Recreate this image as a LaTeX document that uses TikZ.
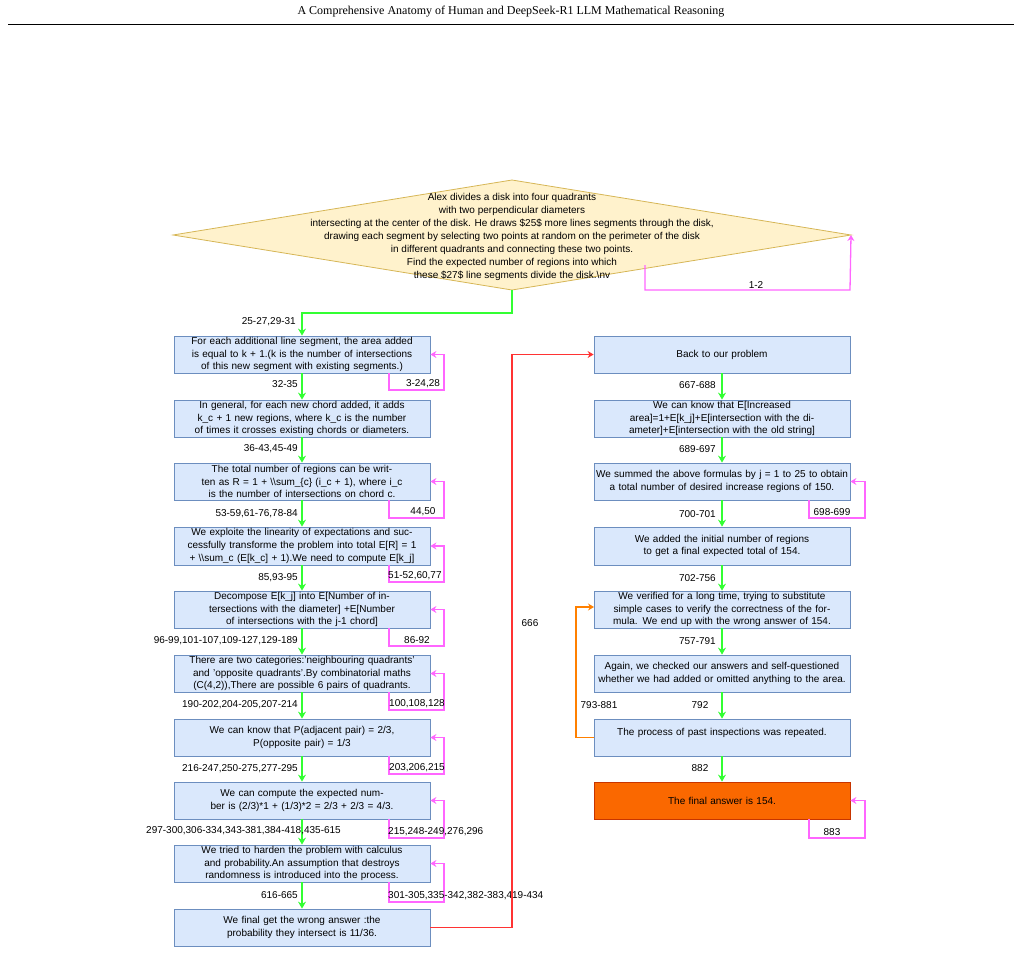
\documentclass[tikz,border=0pt]{standalone}
\usepackage{fontspec}
\setmainfont{Liberation Sans}
\newfontfamily\titlefont{Liberation Serif}
\usetikzlibrary{arrows.meta}
\definecolor{bfill}{HTML}{DAE8FC}\definecolor{bdraw}{HTML}{6C8EBF}
\definecolor{dfill}{HTML}{FFF2CC}\definecolor{ddraw}{HTML}{D6B656}
\definecolor{gr}{HTML}{33FF33}\definecolor{pk}{HTML}{FF66FF}
\definecolor{rd}{HTML}{FF3333}\definecolor{og}{HTML}{FF8000}
\definecolor{ofill}{HTML}{FA6800}\definecolor{odraw}{HTML}{C73500}
\begin{document}
\begin{tikzpicture}[x=1pt,y=-1pt,
 box/.style={draw=bdraw,fill=bfill,line width=0.8pt,minimum width=256pt,text width=254pt,align=center,inner sep=0pt,font=\fontsize{10}{12.6}\selectfont},
 lbl/.style={font=\fontsize{10}{12}\selectfont,inner sep=0pt},
 ga/.style={draw=gr,line width=1.5pt,-{Stealth[length=7pt,width=8pt]}},
 pa/.style={draw=pk,line width=1.3pt,-{Stealth[length=6pt,width=7pt]}},
]
\useasboundingbox (0,0) rectangle (1022,953);
\node[font=\titlefont\fontsize{12}{14}\selectfont] (title) at (511,12) {A Comprehensive Anatomy of Human and DeepSeek-R1 LLM Mathematical Reasoning};
\draw[line width=1pt] (8,24) -- (1014,24);
% diamond
\coordinate (dt) at (512,180); \coordinate (dr) at (851,235);
\coordinate (db) at (512,290); \coordinate (dl) at (173,235);
\draw[draw=ddraw,fill=dfill,line width=0.8pt] (dt)--(dr)--(db)--(dl)--cycle;
\node[lbl,align=center,font=\fontsize{10}{12.9}\selectfont] (dtext) at (512,237) {Alex divides a disk into four quadrants\\with two perpendicular diameters\\intersecting at the center of the disk. He draws \$25\$ more lines segments through the disk,\\drawing each segment by selecting two points at random on the perimeter of the disk\\in different quadrants and connecting these two points.\\Find the expected number of regions into which\\these \$27\$ line segments divide the disk.\textbackslash nv};
% left boxes
\node[box,minimum height=37pt] (L1) at (302,354.5) {For each additional line segment, the area added is equal to k + 1.(k is the number of intersections of this new segment with existing segments.)};
\node[box,minimum height=37pt] (L2) at (302,418.5) {In general, for each new chord added, it adds k\_c + 1 new regions, where k\_c is the number of times it crosses existing chords or diameters.};
\node[box,minimum height=37pt] (L3) at (302,481.5) {The total number of regions can be written as R = 1 + \textbackslash\textbackslash sum\_\{c\} (i\_c + 1), where i\_c is the number of intersections on chord c.};
\node[box,minimum height=38pt] (L4) at (302,546) {We exploite the linearity of expectations and successfully transforme the problem into total E[R] = 1 + \textbackslash\textbackslash sum\_c (E[k\_c] + 1).We need to compute E[k\_j]};
\node[box,minimum height=37pt] (L5) at (302,609.5) {Decompose E[k\_j] into E[Number of intersections with the diameter] +E[Number of intersections with the j-1 chord]};
\node[box,minimum height=37pt] (L6) at (302,673.5) {There are two categories:'neighbouring quadrants' and 'opposite quadrants'.By combinatorial maths (C(4,2)),There are possible 6 pairs of quadrants.};
\node[box,minimum height=37pt] (L7) at (302,737.5) {We can know that P(adjacent pair) = 2/3,\\P(opposite pair) = 1/3};
\node[box,minimum height=37pt] (L8) at (302,800.5) {We can compute the expected number is (2/3)*1 + (1/3)*2 = 2/3 + 2/3 = 4/3.};
\node[box,minimum height=37pt] (L9) at (302,863.5) {We tried to harden the problem with calculus and probability.An assumption that destroys randomness is introduced into the process.};
\node[box,minimum height=37pt] (L10) at (302,927.5) {We final get the wrong answer :the probability they intersect is 11/36.};
% right boxes
\node[box,minimum height=37pt] (R1) at (722,354.5) {Back to our problem};
\node[box,minimum height=37pt] (R2) at (722,418.5) {We can know that E[Increased area]=1+E[k\_j]+E[intersection with the diameter]+E[intersection with the old string]};
\node[box,minimum height=37pt] (R3) at (722,481.5) {We summed the above formulas by j = 1 to 25 to obtain a total number of desired increase regions of 150.};
\node[box,minimum height=38pt] (R4) at (722,546) {We added the initial number of regions to get a final expected total of 154.};
\node[box,minimum height=37pt] (R5) at (722,609.5) {We verified for a long time, trying to substitute simple cases to verify the correctness of the formula. We end up with the wrong answer of 154.};
\node[box,minimum height=37pt] (R6) at (722,673.5) {Again, we checked our answers and self-questioned whether we had added or omitted anything to the area.};
\node[box,minimum height=37pt,text depth=12pt] (R7) at (722,737.5) {The process of past inspections was repeated.};
\node[box,minimum height=37pt,fill=ofill,draw=odraw] (R8) at (722,800.5) {The final answer is 154.};
% green arrows
\draw[ga] (db) -- (512,313) -- (302,313) -- (L1.north);
\node[lbl,anchor=east] (g0) at (296,322) {25-27,29-31};
\foreach \a/\b/\t/\yy in {L1/L2/32-35/384,L2/L3/36-43{,}45-49/449,L3/L4/53-59{,}61-76{,}78-84/514,L4/L5/85{,}93-95/578,L5/L6/96-99{,}101-107{,}109-127{,}129-189/641,L6/L7/190-202{,}204-205{,}207-214/705,L7/L8/216-247{,}250-275{,}277-295/769,L9/L10/616-665/895}{
 \draw[ga] (\a) -- (\b);
 \node[lbl,anchor=east] at (298,\yy) {\t};}
\draw[ga] (L8) -- (L9);
\node[lbl,anchor=west] (g8) at (146,831) {297-300,306-334,343-381,384-418,435-615};
\foreach \a/\b/\t/\yy in {R1/R2/667-688/385,R2/R3/689-697/449,R3/R4/700-701/514,R4/R5/702-756/578,R5/R6/757-791/641}{
 \draw[ga] (\a) -- (\b);
 \node[lbl,anchor=east] at (716,\yy) {\t};}
\draw[ga] (R6) -- (R7); \node[lbl] (g792) at (700,705) {792};
\draw[ga] (R7) -- (R8); \node[lbl] (g882) at (700,768) {882};
% pink loops
\draw[pa] (645,265) -- (645,290) -- (850,290) -- (dr);
\node[lbl] (p0) at (756,285) {1-2};
\foreach \n/\yb/\t/\ya in {L1/390/3-24{,}28/423,L3/518/44{,}50/423,L5/646/86-92/417,L6/710/100{,}108{,}128/417,L7/774/203{,}206{,}215/417}{
 \draw[pa] (389,0 |- \n.south) -- (389,\yb) -- (444,\yb) -- (444,0 |- \n.east) -- (\n.east);
 \node[lbl] at (\ya,\yb-6) {\t};}
\foreach \n/\yb/\t in {L4/582/51-52{,}60{,}77,L8/838/215{,}248-249{,}276{,}296,L9/902/301-305{,}335-342{,}382-383{,}419-434}{
 \draw[pa] (389,0 |- \n.south) -- (389,\yb) -- (444,\yb) -- (444,0 |- \n.east) -- (\n.east);
 \node[lbl,anchor=west] at (388,\yb-6) {\t};}
\foreach \n/\yb/\t in {R3/518/698-699,R8/838/883}{
 \draw[pa] (809,0 |- \n.south) -- (809,\yb) -- (865,\yb) -- (865,0 |- \n.east) -- (\n.east);
 \node[lbl] at (832,\yb-6) {\t};}
% orange
\draw[draw=og,line width=1.3pt,-{Stealth[length=6pt,width=7pt]}] (R7.west) -- (576,737.5) -- (576,607) -- (594,607);
\node[lbl] (o1) at (599,705) {793-881};
% red
\draw[draw=rd,line width=1.3pt,-{Stealth[length=6pt,width=7pt]}] (L10.east) -- (512,927.5) -- (512,354.5) -- (R1.west);
\node[lbl] (r1) at (530,623) {666};
\end{tikzpicture}
\end{document}
